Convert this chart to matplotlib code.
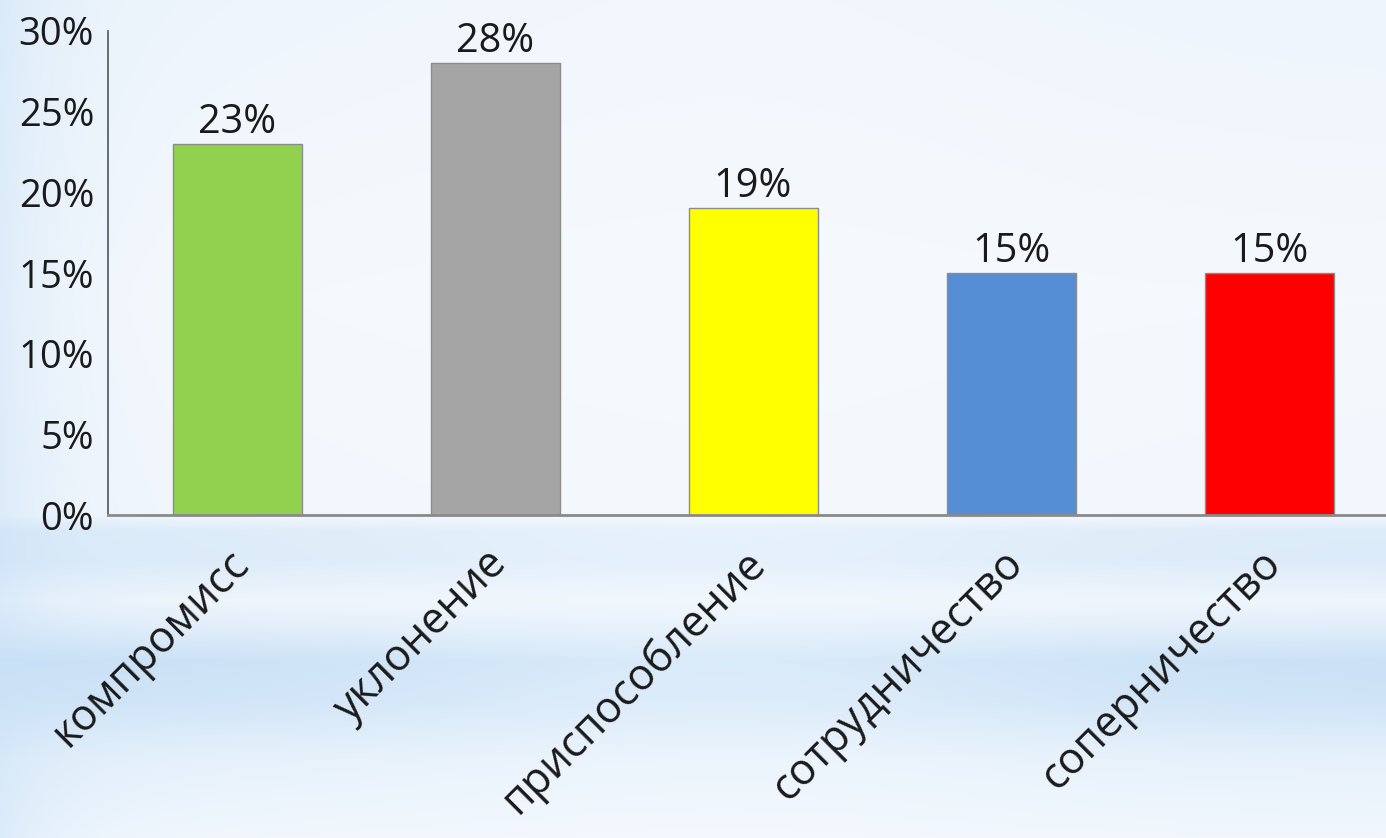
import numpy as np
import matplotlib
matplotlib.use("Agg")
import matplotlib.pyplot as plt
from matplotlib.colors import to_rgb
from matplotlib.transforms import ScaledTranslation

categories = ["компромисс", "уклонение", "приспособление", "сотрудничество", "соперничество"]
values = [23, 28, 19, 15, 15]
labels = ["23%", "28%", "19%", "15%", "15%"]
colors = ["#92d050", "#a5a5a5", "#ffff00", "#558ed5", "#ff0000"]
yticks = [0, 5, 10, 15, 20, 25, 30]
ytick_labels = ["0%", "5%", "10%", "15%", "20%", "25%", "30%"]

W, H = 1386, 838
fig = plt.figure(figsize=(W / 100, H / 100), dpi=100)

# background gradient (slide style)
stops_y = [0, 300, 515, 530, 560, 600, 625, 660, 700, 760, 838]
stops_c = ["#eef5fc", "#f5f9fd", "#f2f7fd", "#ddecf9", "#dcebf9", "#eef5fc",
           "#e2eefa", "#c9e1f6", "#cfe4f7", "#e6f1fb", "#f1f7fd"]
rows = np.arange(H)
cols_rgb = np.array([to_rgb(c) for c in stops_c])
prof = np.stack([np.interp(rows, stops_y, cols_rgb[:, k]) for k in range(3)], axis=1)
img = np.repeat(prof[:, None, :], W, axis=1)
xs = np.arange(W)
center = np.exp(-((xs - 720) / 380.0) ** 2)
white = np.array([0.97, 0.985, 1.0])
img = img * (1 - 0.35 * center[None, :, None]) + white * 0.35 * center[None, :, None]
left = np.exp(-xs / 70.0)
blue = np.array(to_rgb("#c8e0f6"))
img = img * (1 - 0.5 * left[None, :, None]) + blue * 0.5 * left[None, :, None]
bg = fig.add_axes([0, 0, 1, 1], zorder=-1)
bg.imshow(img, aspect="auto", extent=(0, 1, 0, 1))
bg.axis("off")

ax = fig.add_axes([108 / W, (H - 515) / H, 1290 / W, 484 / H])
ax.set_facecolor("none")
x = np.arange(len(categories))
bars = ax.bar(x, values, width=0.5, color=colors, edgecolor="#8c8c8c", linewidth=1, zorder=2)
ax.set_xlim(-0.5, len(categories) - 0.5)
ax.set_ylim(0, 30)
ax.set_yticks(yticks)
ax.set_yticklabels(ytick_labels)
ax.tick_params(axis="y", length=0, pad=10, labelsize=27.5, labelcolor="#1a1a1a")
for t in ax.get_yticklabels():
    t.set_fontfamily("Open Sans")
ax.set_xticks(x)
ax.set_xticklabels(categories, rotation=45, ha="right", va="top",
                   rotation_mode="anchor", fontsize=31, fontfamily="Open Sans", color="#1a1a1a")
ax.tick_params(axis="x", length=0, pad=19)
for t in ax.get_xticklabels():
    t.set_transform(t.get_transform() + ScaledTranslation(-0.10, 0, fig.dpi_scale_trans))

for s in ["top", "right"]:
    ax.spines[s].set_visible(False)
ax.spines["left"].set_color("#555555")
ax.spines["left"].set_linewidth(1.2)
ax.spines["bottom"].set_color("#8a8a8a")
ax.spines["bottom"].set_linewidth(2)

for b, lab in zip(bars, labels):
    ax.annotate(lab, (b.get_x() + b.get_width() / 2, b.get_height()),
                xytext=(0, 1), textcoords="offset points", ha="center", va="bottom",
                fontsize=28.5, fontfamily="Open Sans", color="#1a1a1a")

fig.savefig("out.png", dpi=100)
